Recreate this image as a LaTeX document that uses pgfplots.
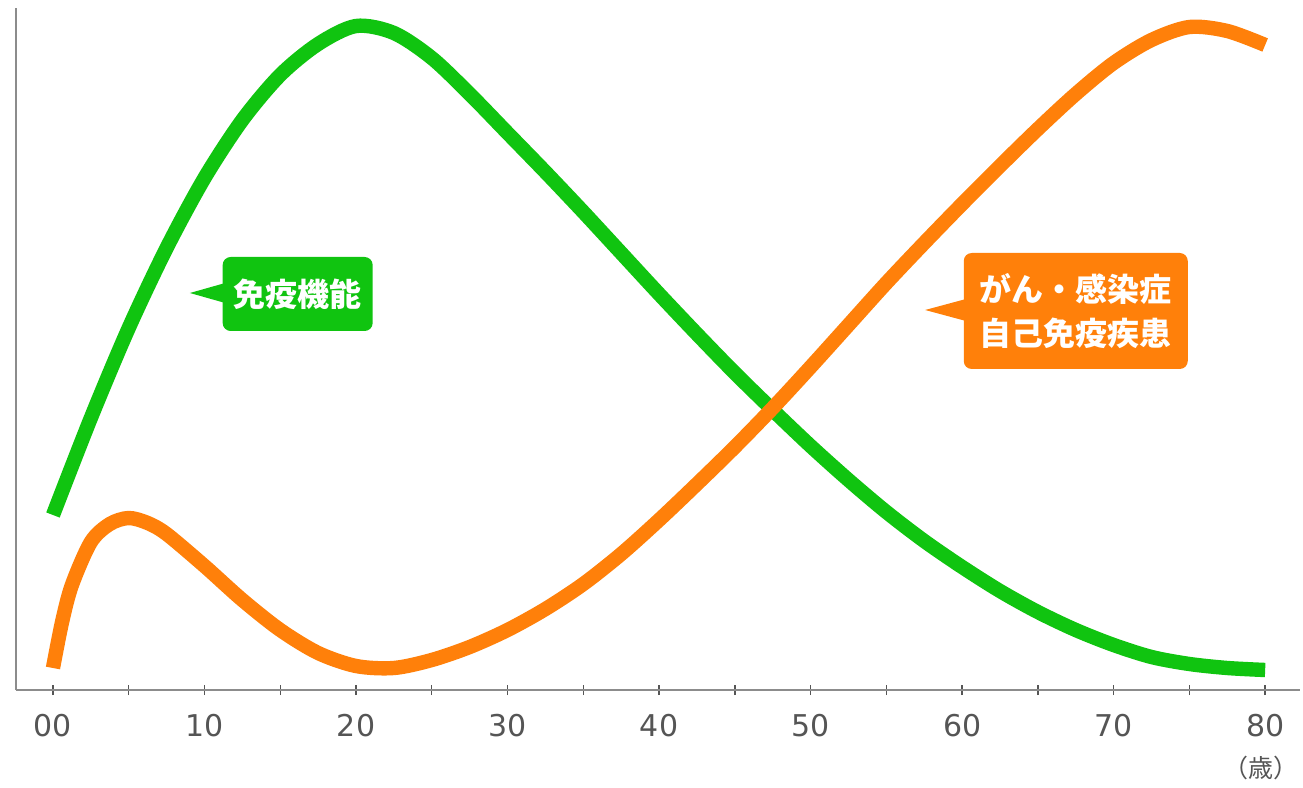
\documentclass[border=0pt]{standalone}
\usepackage{fontspec}
\setmainfont{DejaVu Sans}
\newfontfamily\cjk{Noto Sans CJK JP}
\usepackage{pgfplots}
\pgfplotsset{compat=1.18}
\definecolor{cgreen}{RGB}{16,196,16}
\definecolor{corange}{RGB}{255,128,10}
\definecolor{axgray}{RGB}{140,140,140}
\definecolor{lblgray}{RGB}{85,85,85}
\begin{document}
\begin{tikzpicture}
\begin{axis}[
  scale only axis,
  width=642pt, height=341pt,
  xmin=-2.44, xmax=82.3,
  ymin=0, ymax=682,
  axis x line=bottom, axis y line=left,
  axis line style={-, axgray, line width=1.4pt},
  xtick={0,10,...,80},
  xticklabels={00,10,20,30,40,50,60,70,80},
  minor xtick={5,15,...,75},
  ytick=\empty,
  tick align=center,
  major tick length=5pt, minor tick length=5pt,
  every tick/.style={lblgray, line width=0.7pt},
  xticklabel style={font=\fontsize{15}{18}\selectfont, text=lblgray, yshift=-6pt},
  clip=false,
]
\addplot[cgreen, line width=7.2pt, smooth] coordinates {
(0,175) (2.5,272) (5,362) (7.5,442) (10,512) (12.5,570) (15,615) (17.5,646) (20,664) (22.5,657) (25,632) (27.5,596) (30,557) (32.5,518) (35,478) (37.5,437) (40,396) (42.5,356) (45,317) (47.5,280) (50,244) (52.5,210) (55,178) (57.5,149) (60,123) (62.5,99) (65,78) (67.5,60) (70,45) (72.5,33) (75,26) (77.5,22) (80,20)
};
\addplot[corange, line width=7.2pt, smooth] coordinates {
(0,22) (0.6,68) (1.25,105) (2.5,148) (3.75,166) (5,172) (6.25,167) (7.5,156) (10,124) (12.5,90) (15,60) (17.5,37) (20,24) (22.5,22) (25,30) (27.5,43) (30,60) (32.5,81) (35,106) (37.5,136) (40,170) (42.5,206) (45,243) (47.5,282) (50,323) (52.5,365) (55,407) (57.5,447) (60,486) (62.5,524) (65,561) (67.5,596) (70,627) (72.5,650) (75,663) (77.5,659) (80,645)
};
% callouts
\fill[cgreen] (axis cs:9.04,397) -- (axis cs:11.6,408) -- (axis cs:11.6,386) -- cycle;
\node[fill=cgreen, rounded corners=4pt, minimum width=75pt, minimum height=37pt, inner sep=0pt, text=white, font=\cjk\bfseries\fontsize{16}{19}\selectfont] at (axis cs:16.15,396) {免疫機能};
\fill[corange] (axis cs:57.56,380) -- (axis cs:60.5,392) -- (axis cs:60.5,368) -- cycle;
\node[fill=corange, rounded corners=4pt, minimum width=112pt, minimum height=58pt, inner sep=0pt, text=white, align=center, font=\cjk\bfseries\fontsize{16}{22}\selectfont] at (axis cs:67.5,379) {がん・感染症\\自己免疫疾患};
\node[text=lblgray, font=\cjk\fontsize{12.5}{15}\selectfont] at (axis cs:79.75,-78) {（歳）};
\coordinate (bl) at (rel axis cs:0,0);
\coordinate (tr) at (rel axis cs:1,1);
\end{axis}
\pgfresetboundingbox
\path (bl) ++(-8pt,-49pt) rectangle ([shift={(1.5pt,4pt)}]tr);
\end{tikzpicture}
\end{document}
